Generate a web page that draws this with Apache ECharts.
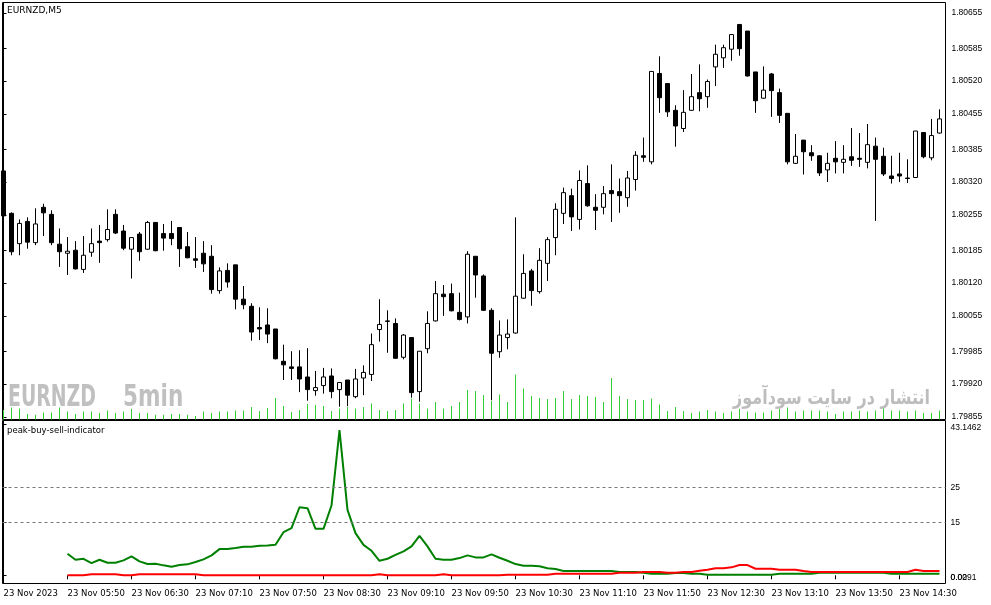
<!DOCTYPE html>
<html>
<head>
<meta charset="utf-8">
<script src="https://cdn.jsdelivr.net/npm/echarts/dist/echarts.min.js"></script>
<style>
html,body{margin:0;padding:0;background:#fff;}
#chart{width:991px;height:605px;}
</style>
</head>
<body>
<div id="chart"></div>
<script>
// ---- data ----
const symbolTitle = 'EURNZD,M5';
const indicatorTitle = 'peak-buy-sell-indicator';

const candleOpen = [
1.80342,1.80258,1.80198,1.80242,1.80200,1.80270,1.80256,1.80197,1.80179,1.80185,
1.80147,1.80181,1.80203,1.80206,1.80256,1.80223,1.80187,1.80217,1.80187,1.80240,
1.80218,1.80218,1.80230,1.80192,1.80168,1.80179,1.80173,1.80105,1.80145,1.80156,
1.80088,1.80074,1.80032,1.80037,1.80029,1.79965,1.79954,1.79954,1.79934,1.79907,
1.79917,1.79936,1.79909,1.79928,1.79895,1.79932,1.79939,1.80028,1.80044,1.80040,
1.79973,1.80012,1.79905,1.79990,1.80045,1.80098,1.80099,1.80062,1.80053,1.80173,
1.80134,1.80066,1.79984,1.80012,1.80021,1.80090,1.80144,1.80103,1.80159,1.80210,
1.80258,1.80293,1.80246,1.80317,1.80270,1.80270,1.80303,1.80301,1.80289,1.80325,
1.80372,1.80360,1.80535,1.80515,1.80462,1.80426,1.80462,1.80497,1.80489,1.80548,
1.80566,1.80583,1.80632,1.80619,1.80538,1.80486,1.80534,1.80497,1.80456,1.80357,
1.80403,1.80378,1.80372,1.80344,1.80367,1.80359,1.80370,1.80367,1.80359,1.80391,
1.80371,1.80332,1.80336,1.80328,1.80329,1.80418,1.80368,1.80417];

const candleHigh = [
1.80342,1.80260,1.80246,1.80250,1.80268,1.80277,1.80264,1.80228,1.80211,1.80203,
1.80213,1.80228,1.80235,1.80266,1.80266,1.80235,1.80210,1.80221,1.80243,1.80241,
1.80237,1.80243,1.80230,1.80221,1.80211,1.80203,1.80195,1.80151,1.80159,1.80156,
1.80114,1.80080,1.80072,1.80070,1.80029,1.79998,1.79985,1.79987,1.79991,1.79946,
1.79952,1.79951,1.79923,1.79928,1.79950,1.79957,1.80020,1.80088,1.80066,1.80050,
1.80019,1.80013,1.79985,1.80064,1.80124,1.80116,1.80119,1.80101,1.80183,1.80173,
1.80137,1.80070,1.80046,1.80048,1.80250,1.80177,1.80148,1.80189,1.80211,1.80278,
1.80309,1.80307,1.80343,1.80353,1.80296,1.80312,1.80355,1.80327,1.80342,1.80381,
1.80408,1.80539,1.80569,1.80515,1.80472,1.80502,1.80534,1.80553,1.80523,1.80592,
1.80592,1.80612,1.80632,1.80619,1.80538,1.80549,1.80536,1.80505,1.80456,1.80415,
1.80403,1.80393,1.80373,1.80378,1.80401,1.80393,1.80427,1.80417,1.80435,1.80408,
1.80388,1.80372,1.80378,1.80365,1.80421,1.80418,1.80445,1.80464];

const candleLow = [
1.80245,1.80175,1.80175,1.80188,1.80195,1.80213,1.80195,1.80152,1.80136,1.80147,
1.80140,1.80172,1.80160,1.80202,1.80217,1.80185,1.80129,1.80164,1.80186,1.80183,
1.80184,1.80195,1.80152,1.80169,1.80150,1.80142,1.80099,1.80099,1.80111,1.80068,
1.80068,1.80006,1.80007,1.80001,1.79969,1.79928,1.79928,1.79904,1.79887,1.79897,
1.79901,1.79892,1.79875,1.79876,1.79892,1.79898,1.79926,1.80004,1.79982,1.79970,
1.79969,1.79893,1.79885,1.79981,1.80044,1.80055,1.80064,1.80046,1.80040,1.80091,
1.80065,1.79888,1.79972,1.79989,1.80020,1.80089,1.80075,1.80099,1.80124,1.80175,
1.80237,1.80223,1.80226,1.80271,1.80225,1.80256,1.80241,1.80259,1.80271,1.80303,
1.80360,1.80355,1.80457,1.80449,1.80390,1.80419,1.80461,1.80460,1.80467,1.80510,
1.80546,1.80560,1.80570,1.80529,1.80457,1.80485,1.80449,1.80437,1.80355,1.80356,
1.80335,1.80362,1.80332,1.80320,1.80337,1.80337,1.80352,1.80350,1.80347,1.80243,
1.80332,1.80317,1.80320,1.80318,1.80328,1.80367,1.80363,1.80416];

const candleClose = [
1.80253,1.80182,1.80238,1.80201,1.80237,1.80259,1.80200,1.80182,1.80183,1.80148,
1.80175,1.80198,1.80200,1.80226,1.80219,1.80189,1.80210,1.80182,1.80240,1.80184,
1.80209,1.80208,1.80188,1.80170,1.80165,1.80158,1.80107,1.80144,1.80122,1.80088,
1.80077,1.80023,1.80029,1.80019,1.79970,1.79958,1.79951,1.79930,1.79909,1.79913,
1.79934,1.79905,1.79923,1.79898,1.79930,1.79943,1.79998,1.80038,1.80045,1.79971,
1.80017,1.79903,1.79985,1.80040,1.80099,1.80093,1.80065,1.80048,1.80177,1.80136,
1.80066,1.79981,1.80017,1.80019,1.80094,1.80139,1.80105,1.80165,1.80206,1.80266,
1.80299,1.80251,1.80323,1.80273,1.80264,1.80297,1.80297,1.80293,1.80328,1.80373,
1.80369,1.80539,1.80487,1.80459,1.80431,1.80458,1.80489,1.80485,1.80519,1.80573,
1.80586,1.80612,1.80584,1.80530,1.80481,1.80502,1.80501,1.80452,1.80360,1.80371,
1.80380,1.80372,1.80338,1.80357,1.80360,1.80365,1.80363,1.80365,1.80394,1.80365,
1.80336,1.80327,1.80332,1.80327,1.80421,1.80370,1.80412,1.80445];

const tickVolume = [
48,60,55,28,24,35,35,60,40,28,
40,40,32,45,32,40,52,32,32,24,
24,28,28,24,18,40,32,40,40,45,
45,63,43,58,108,68,38,48,78,73,
68,43,55,62,55,62,80,47,42,47,
80,105,80,55,87,55,67,87,148,142,
122,92,125,87,225,155,117,107,103,107,
142,103,122,117,112,87,207,117,103,97,
97,105,75,42,63,42,32,40,48,40,
32,40,52,40,35,35,45,52,60,40,
45,45,45,40,28,40,40,45,40,45,
55,45,45,40,45,32,32,45];

const buyLine = [
null,null,null,null,null,null,null,null,6.14,4.43,
4.72,3.49,4.43,3.58,3.58,4.26,5.40,3.98,3.21,3.30,
2.84,2.44,2.93,3.13,3.78,4.55,5.68,7.47,7.47,7.76,
8.13,8.13,8.41,8.52,8.69,12.30,13.44,19.40,19.12,13.24,
13.24,19.89,41.40,18.64,12.02,8.69,6.99,4.15,4.72,5.85,
6.82,8.24,11.25,8.24,4.72,4.43,4.43,4.91,5.68,5.11,
5.11,5.97,5.00,4.15,3.21,2.73,2.73,2.56,1.99,1.79,
1.22,1.22,1.22,1.22,1.22,1.22,1.22,0.94,0.94,0.94,
0.74,0.45,0.45,0.45,0.65,0.65,0.45,0.45,0.17,0.17,
0.17,0.17,0.17,0.17,0.17,0.17,0.17,0.45,0.45,0.45,
0.45,0.45,0.74,0.74,0.74,0.74,0.74,0.74,0.74,0.74,
0.74,0.45,0.45,0.45,0.45,0.45,0.45,0.45];

const sellLine = [
null,null,null,null,null,null,null,null,0.03,0.03,
0.03,0.30,0.30,0.30,0.30,0.03,0.03,0.30,0.30,0.30,
0.30,0.30,0.30,0.30,0.30,0.03,0.03,0.03,0.03,0.03,
0.03,0.03,0.03,0.03,0.03,0.03,0.03,0.03,0.03,0.03,
0.03,0.03,0.03,0.03,0.03,0.03,0.03,0.30,0.03,0.03,
0.03,0.03,0.03,0.03,0.03,0.30,0.03,0.03,0.03,0.03,
0.03,0.03,0.03,0.17,0.17,0.17,0.17,0.17,0.17,0.45,
0.45,0.45,0.45,0.45,0.45,0.45,0.45,0.74,0.74,0.74,
0.94,0.94,0.94,0.74,0.74,0.94,0.94,1.31,1.59,1.99,
1.99,2.27,2.93,2.93,1.88,1.88,1.88,1.59,1.59,1.59,
1.22,0.94,0.94,0.94,0.94,0.94,0.94,0.94,0.94,0.94,
0.94,0.94,0.94,0.94,1.59,1.22,1.22,1.22];

const indicatorLevels = [15, 25];

const priceTickLabels = ['1.79855','1.79920','1.79985','1.80055','1.80120','1.80185','1.80255',
  '1.80320','1.80385','1.80455','1.80520','1.80585','1.80655'];

const indicatorTickValues = [0.0291, 15, 25, 43.1462];
const indicatorTickLabels = ['0.0291', '15', '25', '43.1462'];
const indicatorZeroValue = 0;
const indicatorZeroLabel = '0.00';

const timeTickIndex = [0,8,16,24,32,40,48,56,64,72,80,88,96,104,112];
const timeTickLabels = ['23 Nov 2023','23 Nov 05:50','23 Nov 06:30','23 Nov 07:10','23 Nov 07:50',
  '23 Nov 08:30','23 Nov 09:10','23 Nov 09:50','23 Nov 10:30','23 Nov 11:10','23 Nov 11:50',
  '23 Nov 12:30','23 Nov 13:10','23 Nov 13:50','23 Nov 14:30'];

const watermarkLeft = ['EURNZD', '5min'];
const watermarkRight = 'انتشار در سایت سودآموز';

// ---- build ----
const N = candleOpen.length;
const candleRows = [], volRows = [], buyRows = [], sellRows = [];
for (let i = 0; i < N; i++) {
  candleRows.push([i, candleOpen[i], candleClose[i], candleLow[i], candleHigh[i]]);
  volRows.push([i, tickVolume[i]]);
  if (buyLine[i] != null) buyRows.push([i, buyLine[i]]);
  if (sellLine[i] != null) sellRows.push([i, sellLine[i]]);
}
const priceTickValues = priceTickLabels.map(Number);

const FONT = 'DejaVu Sans';
const AXFONT = 'Liberation Sans';
const xMin = -0.125, xMax = 117.75;
const indMin = -2.33, indMax = 44.12;

function nearestIndex(arr, v) {
  let best = 0;
  arr.forEach((t, k) => { if (Math.abs(t - v) < Math.abs(arr[best] - v)) best = k; });
  return best;
}

const chart = echarts.init(document.getElementById('chart'), null, {renderer: 'canvas'});
chart.setOption({
  animation: false,
  backgroundColor: '#ffffff',
  textStyle: {fontFamily: FONT},
  title: [
    {text: symbolTitle, left: 7, top: 6, padding: 0,
     textStyle: {fontSize: 9, fontWeight: 'normal', color: '#000', fontFamily: FONT}},
    {text: indicatorTitle, left: 7, top: 426, padding: 0,
     textStyle: {fontSize: 8.5, fontWeight: 'normal', color: '#000', fontFamily: FONT}}
  ],
  graphic: [
    {type: 'text', x: 8, y: 383, scaleX: 0.7, z: 1, silent: true,
     style: {text: watermarkLeft[0], fontSize: 30, fontWeight: 'bold', fontFamily: '"DejaVu Sans Condensed", "DejaVu Sans"',
       fill: '#c0c0c0', verticalAlign: 'top'}},
    {type: 'text', x: 123, y: 383, scaleX: 0.8, z: 1, silent: true,
     style: {text: watermarkLeft[1], fontSize: 30, fontWeight: 'bold', fontFamily: '"DejaVu Sans Condensed", "DejaVu Sans"',
       fill: '#c0c0c0', verticalAlign: 'top'}},
    {type: 'text', x: 930, y: 389, scaleX: 0.8, z: 1, silent: true,
     style: {text: watermarkRight, fontSize: 20, fontWeight: 'bold', fontFamily: '"DejaVu Sans"',
       fill: '#bdbdbd', align: 'right', verticalAlign: 'top'}}
  ],
  grid: [
    {left: 2.5, top: 2.5, width: 943, height: 417, show: true, borderColor: '#000', borderWidth: 1, backgroundColor: '#fff'},
    {left: 2.5, top: 420.5, width: 943, height: 163, show: true, borderColor: '#000', borderWidth: 1, backgroundColor: '#fff'}
  ],
  xAxis: [
    {type: 'value', gridIndex: 0, min: xMin, max: xMax, show: false},
    {type: 'value', gridIndex: 1, min: xMin, max: xMax,
     axisLine: {show: false}, splitLine: {show: false},
     axisTick: {show: true, customValues: timeTickIndex, length: 4, lineStyle: {color: '#000'}},
     axisLabel: {show: true, customValues: timeTickIndex, margin: 6, align: 'left',
       color: '#000', fontSize: 8.5, fontFamily: FONT, hideOverlap: false,
       formatter: v => timeTickLabels[nearestIndex(timeTickIndex, v)]}}
  ],
  yAxis: [
    {type: 'value', gridIndex: 0, position: 'right', min: 1.798498, max: 1.806755,
     axisLine: {show: true, lineStyle: {color: '#000'}}, splitLine: {show: false},
     axisTick: {show: true, customValues: priceTickValues, length: 3, lineStyle: {color: '#000'}},
     axisLabel: {show: true, customValues: priceTickValues, margin: 6, color: '#000',
       fontSize: 8.5, fontFamily: AXFONT, hideOverlap: false,
       formatter: v => v.toFixed(5)}},
    {type: 'value', gridIndex: 0, min: 0, max: 2085, show: false},
    {type: 'value', gridIndex: 1, position: 'right', min: indMin, max: indMax,
     axisLine: {show: true, lineStyle: {color: '#000'}}, splitLine: {show: false},
     axisTick: {show: true, customValues: indicatorTickValues, length: 3, lineStyle: {color: '#000'}},
     axisLabel: {show: true, customValues: indicatorTickValues, margin: 5, color: '#000',
       fontSize: 8.5, fontFamily: AXFONT, hideOverlap: false,
       rich: {
         top: {fontSize: 8.5, fontFamily: AXFONT, color: '#000', padding: [8, 0, 0, 0]},
         low: {fontSize: 8.5, fontFamily: AXFONT, color: '#000', padding: [5, 0, 0, 0]}
       },
       formatter: v => {
         const k = nearestIndex(indicatorTickValues, v);
         const s = indicatorTickLabels[k];
         if (k === indicatorTickValues.length - 1) return '{top|' + s + '}';
         if (k === 0) return '{low|' + s + '}';
         return s;
       }}},
    {type: 'value', gridIndex: 1, position: 'right', min: indMin, max: indMax,
     axisLine: {show: false}, splitLine: {show: false}, axisTick: {show: false},
     axisLabel: {show: true, customValues: [indicatorZeroValue], margin: 5, color: '#000',
       fontSize: 8.5, fontFamily: AXFONT, hideOverlap: false,
       rich: {low: {fontSize: 8.5, fontFamily: AXFONT, color: '#000', padding: [5, 0, 0, 0]}},
       formatter: () => '{low|' + indicatorZeroLabel + '}'}}
  ],
  series: [
    {type: 'bar', name: 'volume', xAxisIndex: 0, yAxisIndex: 1, data: volRows, barWidth: 1,
     itemStyle: {color: '#32cd32'}, silent: true, z: 1},
    {type: 'candlestick', name: 'EURNZD', xAxisIndex: 0, yAxisIndex: 0, data: candleRows,
     encode: {x: 0, y: [1, 2, 3, 4]}, barWidth: 4, clip: true, silent: true,
     itemStyle: {color: '#ffffff', color0: '#000000', borderColor: '#000000', borderColor0: '#000000',
       borderColorDoji: '#000000', borderWidth: 1}},
    {type: 'line', name: 'buy', xAxisIndex: 1, yAxisIndex: 2, data: buyRows, showSymbol: false,
     silent: true, lineStyle: {color: '#008000', width: 2}, itemStyle: {color: '#008000'},
     markLine: {silent: true, symbol: ['none', 'none'], label: {show: false},
       lineStyle: {color: '#777777', type: [3, 3], width: 1},
       data: indicatorLevels.map(v => ({yAxis: v}))}},
    {type: 'line', name: 'sell', xAxisIndex: 1, yAxisIndex: 2, data: sellRows, showSymbol: false,
     silent: true, lineStyle: {color: '#ff0000', width: 2}, itemStyle: {color: '#ff0000'}}
  ]
});
</script>
</body>
</html>
